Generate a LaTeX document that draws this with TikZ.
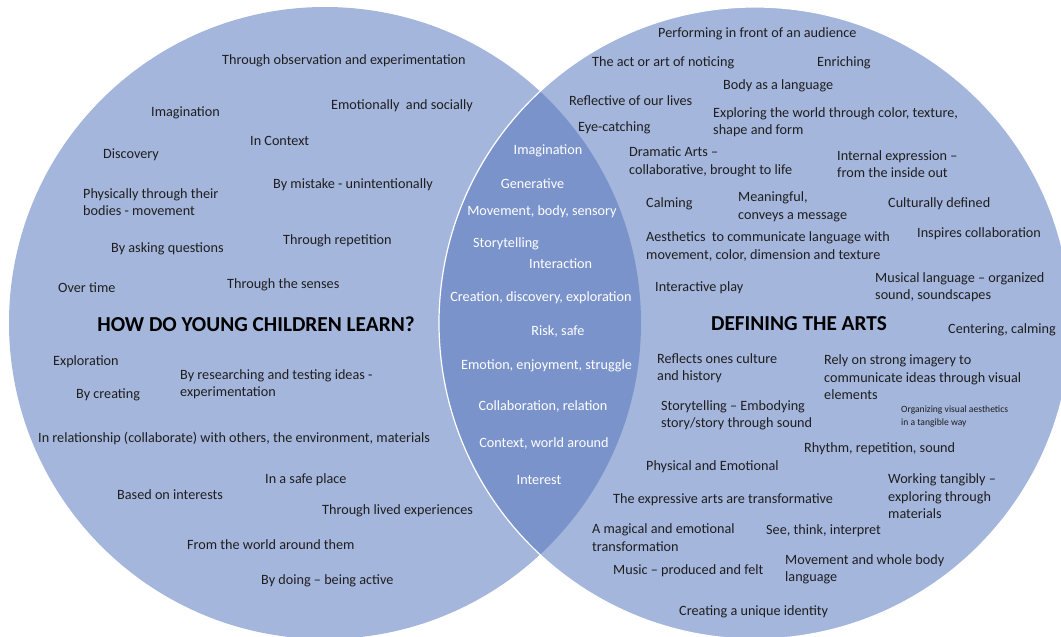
\documentclass[tikz,border=0pt]{standalone}
\usepackage{fontspec}
\setmainfont{Carlito}
\definecolor{circfill}{HTML}{A5B6DD}
\definecolor{lensfill}{HTML}{7A93CB}
\definecolor{txt}{HTML}{1E1E1E}
\begin{document}
\begin{tikzpicture}[x=1pt,y=-1pt,
  item/.style={anchor=west,inner sep=0pt,align=left,text=txt,yshift=-1.2pt,font=\fontsize{14.2}{17.5}\selectfont},
  small/.style={anchor=west,inner sep=0pt,align=left,text=txt,font=\fontsize{9.6}{13}\selectfont},
  lens/.style={anchor=center,inner sep=0pt,text=white,yshift=-1pt,font=\fontsize{14.2}{17.5}\selectfont},
  title/.style={anchor=center,inner sep=0pt,text=black,font=\fontsize{21.3}{24}\bfseries\selectfont}]
\useasboundingbox (0,0) rectangle (1061,637);
\coordinate (L) at (325,323);
\coordinate (R) at (755,323);
% circles
\fill[circfill] (L) circle[radius=316pt];
\fill[circfill] (R) circle[radius=316pt];
\begin{scope}
  \clip (L) circle[radius=316pt];
  \fill[lensfill] (R) circle[radius=316pt];
\end{scope}
\draw[white,line width=1.2pt] (R) circle[radius=316pt];
% left circle
\node[item] (l1) at (222,60) {Through observation and experimentation};
\node[item] (l2) at (151,112) {Imagination};
\node[item] (l3) at (331,105) {Emotionally \ and socially};
\node[item] (l4) at (250,140) {In Context};
\node[item] (l5) at (103,154) {Discovery};
\node[item] (l6) at (83,201) {Physically through their\\bodies - movement};
\node[item] (l7) at (273,184) {By mistake - unintentionally};
\node[item] (l8) at (283,240) {Through repetition};
\node[item] (l9) at (111,248) {By asking questions};
\node[item] (l10) at (58,286) {Over time};
\node[item] (l11) at (227,284) {Through the senses};
\node[title] (lt) at (256,324) {HOW DO YOUNG CHILDREN LEARN?};
\node[item] (l12) at (53,361) {Exploration};
\node[item] (l13) at (180,383) {By researching and testing ideas -\\experimentation};
\node[item] (l14) at (76,394) {By creating};
\node[item] (l15) at (38,437) {In relationship (collaborate) with others, the environment, materials};
\node[item] (l16) at (265,479) {In a safe place};
\node[item] (l17) at (117,493) {Based on interests};
\node[item] (l18) at (322,510) {Through lived experiences};
\node[item] (l19) at (187,543) {From the world around them};
\node[item] (l20) at (261,580) {By doing -- being active};
% lens
\node[lens] (m1) at (548,150) {Imagination};
\node[lens] (m2) at (532.5,183) {Generative};
\node[lens] (m3) at (542,211) {Movement, body, sensory};
\node[lens,anchor=west] (m4) at (473,243) {Storytelling};
\node[lens,anchor=west] (m5) at (529,263) {Interaction};
\node[lens] (m6) at (541,297) {Creation, discovery, exploration};
\node[lens] (m7) at (558,330) {Risk, safe};
\node[lens] (m8) at (546.5,365) {Emotion, enjoyment, struggle};
\node[lens] (m9) at (543,405) {Collaboration, relation};
\node[lens] (m10) at (544,442) {Context, world around};
\node[lens] (m11) at (539,479) {Interest};
% right circle
\node[item] (r1) at (658,33) {Performing in front of an audience};
\node[item] (r2) at (592,62) {The act or art of noticing};
\node[item] (r3) at (817,62) {Enriching};
\node[item] (r4) at (723,85) {Body as a language};
\node[item] (r5) at (569,99) {Reflective of our lives};
\node[item] (r6) at (713,121) {Exploring the world through color, texture,\\shape and form};
\node[item] (r7) at (578,127) {Eye-catching};
\node[item] (r8) at (629,160.5) {Dramatic Arts --\\collaborative, brought to life};
\node[item] (r9) at (837,163) {Internal expression --\\from the inside out};
\node[item] (r10) at (646,203) {Calming};
\node[item] (r11) at (738,205.5) {Meaningful,\\conveys a message};
\node[item] (r12) at (888,203) {Culturally defined};
\node[item] (r13) at (646,245.5) {Aesthetics \ to communicate language with\\movement, color, dimension and texture};
\node[item] (r14) at (917,233) {Inspires collaboration};
\node[item] (r15) at (655,287) {Interactive play};
\node[item] (r16) at (875,286) {Musical language -- organized\\sound, soundscapes};
\node[title] (rt) at (799,324) {DEFINING THE ARTS};
\node[item] (r17) at (948,329) {Centering, calming};
\node[item] (r18) at (657,367) {Reflects ones culture\\and history};
\node[item] (r19) at (824,376) {Rely on strong imagery to\\communicate ideas through visual\\elements};
\node[item] (r20) at (661,414) {Storytelling -- Embodying\\story/story through sound};
\node[small] (r21) at (901,416.5) {Organizing visual aesthetics\\in a tangible way};
\node[item] (r22) at (804,448) {Rhythm, repetition, sound};
\node[item] (r23) at (646,466) {Physical and Emotional};
\node[item] (r24) at (888,495) {Working tangibly --\\exploring through\\materials};
\node[item] (r25) at (613,499) {The expressive arts are transformative};
\node[item] (r26) at (592,536.5) {A magical and emotional\\transformation};
\node[item] (r27) at (766,530) {See, think, interpret};
\node[item] (r28) at (785,568) {Movement and whole body\\language};
\node[item] (r29) at (613,570) {Music -- produced and felt};
\node[item] (r30) at (679,611) {Creating a unique identity};
\end{tikzpicture}
\end{document}
